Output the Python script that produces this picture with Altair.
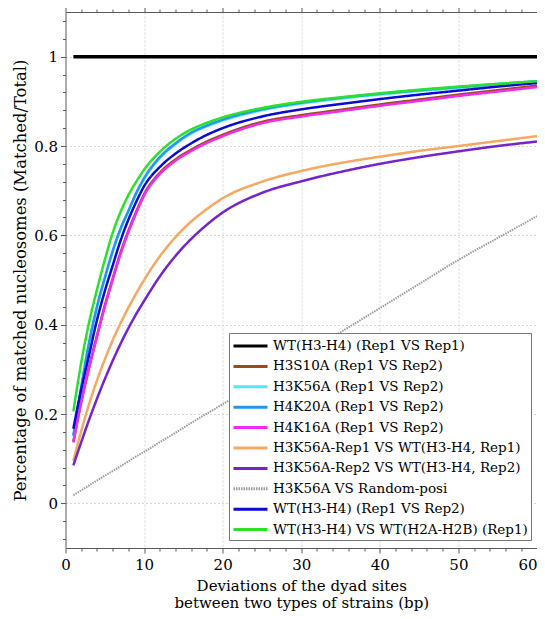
import altair as alt
import pandas as pd

# ---- data ----
deviation = [1, 2, 3, 4, 5, 6, 7, 8, 9, 10, 12, 14, 16, 18, 20, 25, 30, 35, 40, 45, 50, 55, 60]

series_names = [
    "WT(H3-H4) (Rep1 VS Rep1)",
    "H3S10A (Rep1 VS Rep2)",
    "H3K56A (Rep1 VS Rep2)",
    "H4K20A (Rep1 VS Rep2)",
    "H4K16A (Rep1 VS Rep2)",
    "H3K56A-Rep1 VS WT(H3-H4, Rep1)",
    "H3K56A-Rep2 VS WT(H3-H4, Rep2)",
    "H3K56A VS Random-posi",
    "WT(H3-H4) (Rep1 VS Rep2)",
    "WT(H3-H4) VS WT(H2A-H2B) (Rep1)",
]

wt_rep1_rep1 = [1.0] * 23
h3s10a = [0.138, 0.228, 0.305, 0.375, 0.443, 0.503, 0.561, 0.610, 0.653, 0.692, 0.740, 0.770,
          0.792, 0.810, 0.825, 0.854, 0.869, 0.881, 0.893, 0.904, 0.915, 0.925, 0.935]
h3k56a = [0.150, 0.258, 0.358, 0.438, 0.503, 0.563, 0.613, 0.653, 0.693, 0.726, 0.773, 0.804,
          0.828, 0.844, 0.857, 0.880, 0.895, 0.906, 0.915, 0.923, 0.930, 0.937, 0.943]
h4k20a = [0.152, 0.260, 0.360, 0.440, 0.505, 0.565, 0.615, 0.655, 0.695, 0.728, 0.775, 0.806,
          0.830, 0.846, 0.859, 0.882, 0.897, 0.908, 0.917, 0.925, 0.932, 0.939, 0.945]
h4k16a = [0.136, 0.225, 0.302, 0.372, 0.440, 0.500, 0.558, 0.607, 0.650, 0.689, 0.737, 0.767,
          0.789, 0.807, 0.822, 0.851, 0.866, 0.878, 0.890, 0.901, 0.912, 0.922, 0.932]
k56_rep1_vs_wt = [0.095, 0.162, 0.222, 0.275, 0.322, 0.365, 0.403, 0.438, 0.470, 0.500, 0.553, 0.596,
                  0.631, 0.659, 0.683, 0.720, 0.744, 0.762, 0.776, 0.789, 0.800, 0.811, 0.822]
k56_rep2_vs_wt = [0.085, 0.137, 0.187, 0.234, 0.278, 0.319, 0.357, 0.392, 0.424, 0.453, 0.508, 0.554,
                  0.592, 0.624, 0.651, 0.695, 0.721, 0.742, 0.760, 0.775, 0.788, 0.800, 0.810]
k56_random = [0.018, 0.029, 0.040, 0.051, 0.062, 0.072, 0.083, 0.094, 0.105, 0.115, 0.137, 0.158,
              0.180, 0.201, 0.222, 0.276, 0.330, 0.383, 0.437, 0.491, 0.545, 0.594, 0.643]
wt_rep1_rep2 = [0.167, 0.255, 0.332, 0.410, 0.475, 0.532, 0.588, 0.635, 0.675, 0.710, 0.753, 0.783,
                0.806, 0.825, 0.840, 0.866, 0.882, 0.894, 0.905, 0.915, 0.924, 0.933, 0.941]
wt_vs_h2a = [0.206, 0.315, 0.405, 0.478, 0.545, 0.605, 0.652, 0.690, 0.720, 0.747, 0.787, 0.816,
             0.837, 0.852, 0.864, 0.885, 0.899, 0.909, 0.918, 0.926, 0.933, 0.939, 0.945]

all_series = [wt_rep1_rep1, h3s10a, h3k56a, h4k20a, h4k16a, k56_rep1_vs_wt,
              k56_rep2_vs_wt, k56_random, wt_rep1_rep2, wt_vs_h2a]

colors = ["#000000", "#9a4a1c", "#55e8f2", "#2196f0", "#f02cf0", "#f5a860",
          "#7424cc", "#9a9a9a", "#0a0ad0", "#2ee02e"]
dashes = [[1, 0]] * 7 + [[1.5, 1]] + [[1, 0]] * 2

x_ticks = list(range(0, 61, 2))
y_ticks = [round(-0.08 + 0.04 * i, 2) for i in range(30)]

rows = []
for k, (name, vals) in enumerate(zip(series_names, all_series)):
    for xv, yv in zip(deviation, vals):
        rows.append({"x": xv, "y": yv, "series": name, "k": k})
df = pd.DataFrame(rows)

FONT = "DejaVu Serif"
AX = "#5a5a5a"

x_major = "abs(datum.value % 10) < 1e-6"
y_major = "abs(datum.value * 5 - round(datum.value * 5)) < 1e-6"

x_axis = alt.Axis(
    values=x_ticks,
    labelExpr=f"({x_major}) ? format(datum.value, 'd') : ''",
    labelAlign={"condition": {"test": "datum.value >= 59", "value": "right"}, "value": "center"},
    title=["Deviations of the dyad sites", "between two types of strains (bp)"],
    tickSize={"condition": {"test": x_major, "value": 5}, "value": 3},
    gridOpacity={"condition": {"test": f"({x_major}) && datum.value > 0 && datum.value < 60", "value": 1}, "value": 0},
    grid=True, gridColor="#d6d6d6", gridDash=[2, 2], gridWidth=1,
    domainColor=AX, tickColor=AX, labelColor="#000", titleColor="#000",
    labelFont=FONT, labelFontSize=15, titleFont=FONT, titleFontSize=15, titleFontWeight="normal",
    labelPadding=4, titlePadding=6, titleLineHeight=17, labelFlush=False,
)
y_axis = alt.Axis(
    values=y_ticks,
    labelExpr=f"({y_major}) ? format(datum.value, '~g') : ''",
    title="Percentage of matched nucleosomes (Matched/Total)",
    tickSize={"condition": {"test": y_major, "value": 5}, "value": 3},
    gridOpacity={"condition": {"test": y_major, "value": 1}, "value": 0},
    grid=True, gridColor="#d6d6d6", gridDash=[2, 2], gridWidth=1,
    domainColor=AX, tickColor=AX, labelColor="#000", titleColor="#000",
    labelFont=FONT, labelFontSize=15, titleFont=FONT, titleFontSize=16.4, titleFontWeight="normal",
    labelPadding=3, titlePadding=5, labelFlush=False,
)

xs = alt.Scale(domain=[0, 60], nice=False, zero=False)
ys = alt.Scale(domain=[-0.1, 1.1], nice=False, zero=False)

lines = alt.Chart(df).mark_line(interpolate="monotone").encode(
    x=alt.X("x:Q", scale=xs, axis=x_axis),
    y=alt.Y("y:Q", scale=ys, axis=y_axis),
    color=alt.Color("series:N", scale=alt.Scale(domain=series_names, range=colors), title=None,
                    sort=series_names),
    strokeDash=alt.StrokeDash("series:N", scale=alt.Scale(domain=series_names, range=dashes), title=None,
                              sort=series_names),
    strokeWidth={"condition": [{"test": "datum.k == 0", "value": 3.5},
                               {"test": "datum.k == 7", "value": 2.0}], "value": 2.5},
    order=alt.Order("x:Q"),
)

frame = alt.Chart(df).mark_line(opacity=0).encode(
    x=alt.X("x:Q", scale=xs, axis=alt.Axis(orient="top", values=x_ticks, labels=False, title=None, grid=False,
                                          tickSize={"condition": {"test": x_major, "value": 5}, "value": 3},
                                          domainColor=AX, tickColor=AX)),
    y=alt.Y("y:Q", scale=ys, axis=alt.Axis(orient="right", values=y_ticks, labels=False, title=None, grid=False,
                                          tickSize={"condition": {"test": y_major, "value": 5}, "value": 3},
                                          domainColor=AX, tickColor=AX)),
    detail="k:N",
)

chart = alt.layer(lines, frame).resolve_axis(x="independent", y="independent").properties(
    width=471.5, height=536,
    autosize=alt.AutoSizeParams(type="none"),
    padding={"left": 57.5, "top": 4, "right": 0, "bottom": 63},
).configure_view(stroke=None).configure_legend(
    orient="none", legendX=163.5, legendY=321,
    labelFont=FONT, labelFontSize=13.5, labelColor="#000", labelLimit=400,
    symbolType="M-1,0H3", symbolSize=289, symbolStrokeWidth=3, labelOffset=21,
    rowPadding=3.4, padding=3, strokeColor="#777", fillColor="#ffffff", cornerRadius=0,
)

chart.save("out.html", embed_options={"renderer": "svg", "actions": False})
